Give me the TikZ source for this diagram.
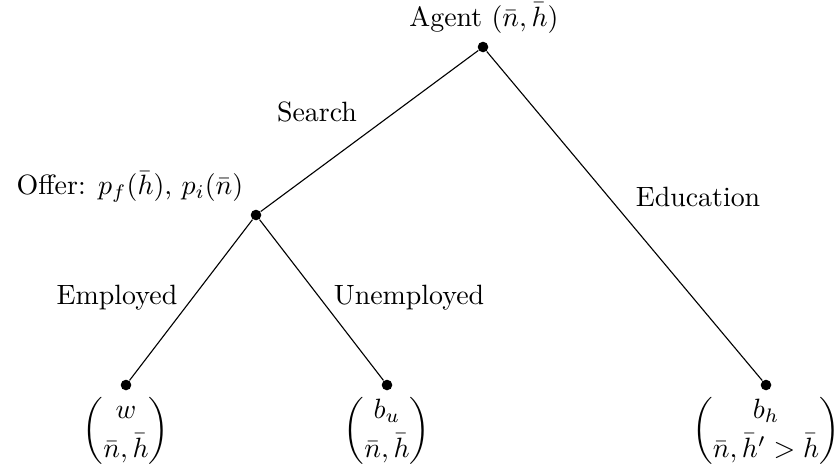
\documentclass[tikz,border=0pt]{standalone}
\usepackage{amsmath}
\usepackage{amssymb}
\usetikzlibrary{arrows.meta}

\begin{document}
\begin{tikzpicture}[x=0.3584pt,y=-0.3584pt,
    dot/.style={circle,fill=black,inner sep=0pt,minimum size=3.8pt}]
    \useasboundingbox (0,0) rectangle (839,470);

    \node[dot] (1) at (483,47) {};
    \node[dot] (2) at (256,215) {};
    \node[dot] (3) at (126,385) {};
    \node[dot] (4) at (387,385) {};
    \node[dot] (5) at (766,385) {};

    \node (t1) at (484,18) {Agent $(\bar{n},\bar{h})$};
    \node (t2) at (130,187) {Offer: $p_f(\bar{h})$, $p_i(\bar{n})$};
    \node (t3) at (126,431) {$\begin{pmatrix} w \\[2pt] \bar{n},\bar{h} \end{pmatrix}$};
    \node (t4) at (387,431) {$\begin{pmatrix} b_u \\[2pt] \bar{n},\bar{h} \end{pmatrix}$};
    \node (t5) at (766,431) {$\begin{pmatrix} b_h \\[2pt] \bar{n},\bar{h}' > \bar{h} \end{pmatrix}$};

    \path[black, thin]
    (1) edge (2)
    (1) edge (5)
    (2) edge (3)
    (2) edge (4);

    \node (s) at (317,112) {Search};
    \node (e) at (698,197) {Education};
    \node (em) at (117,298) {Employed};
    \node (un) at (409,298) {Unemployed};
\end{tikzpicture}
\end{document}
